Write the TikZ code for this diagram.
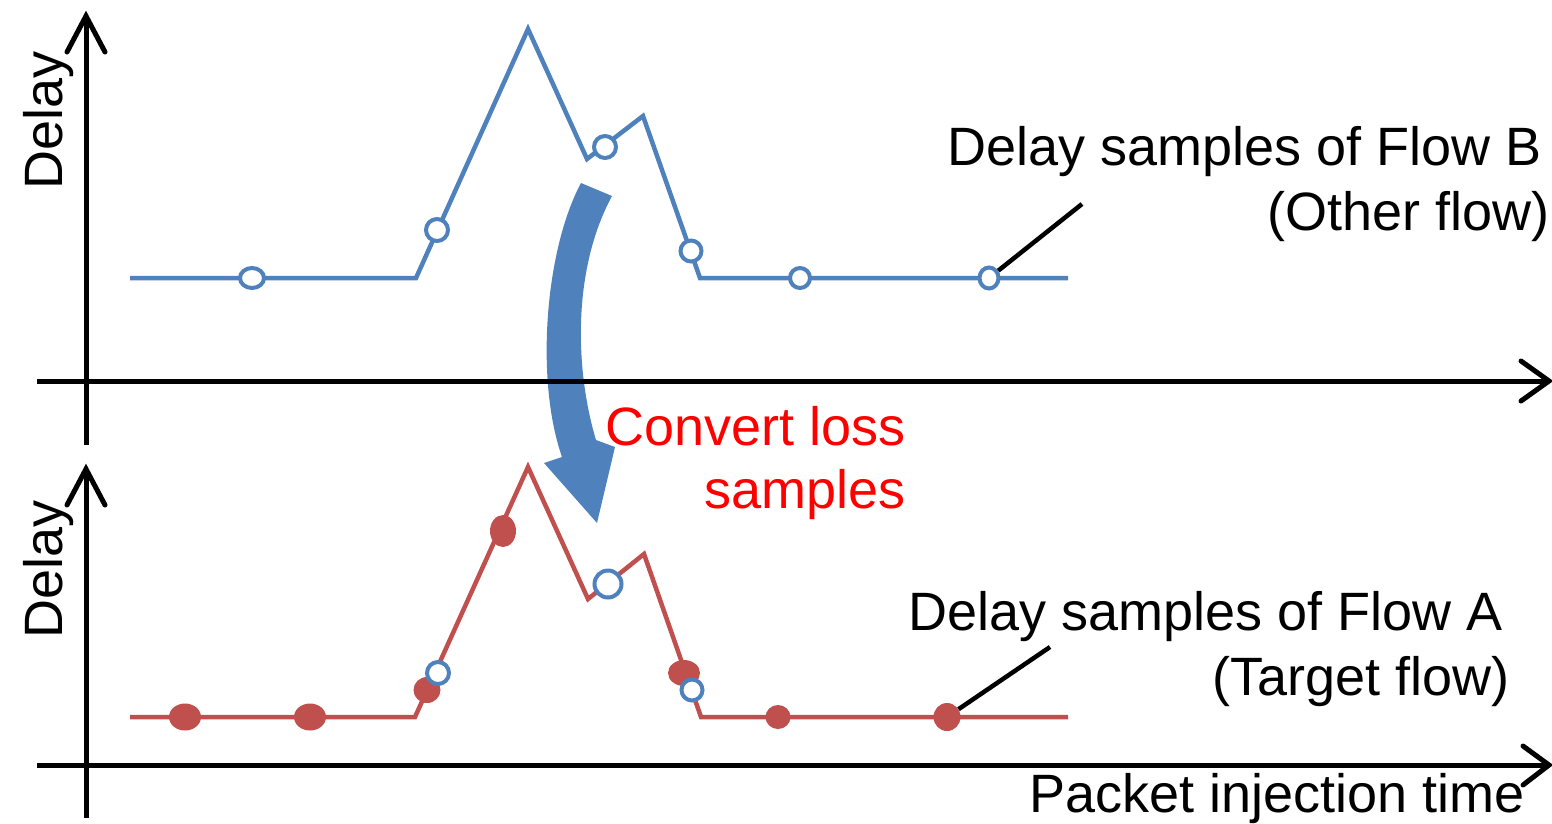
\documentclass[tikz,border=0pt]{standalone}
\usepackage{fontspec}
\setmainfont{Liberation Sans}
\usetikzlibrary{calc,shapes.geometric}
\definecolor{oblue}{HTML}{4F81BD}
\definecolor{ored}{HTML}{C0504D}
\begin{document}
\begin{tikzpicture}[x=1pt,y=-1pt,
  axis/.style={line width=5pt},
  chev/.style={line width=5pt, line cap=round, line join=miter},
  curveB/.style={oblue, line width=4.5pt, line join=miter},
  curveA/.style={ored, line width=4.5pt, line join=miter},
  opent/.style 2 args={ellipse, draw=oblue, fill=white, line width=4pt, inner sep=0pt, minimum width=#1, minimum height=#2},
  fillr/.style 2 args={ellipse, fill=ored, inner sep=0pt, minimum width=#1, minimum height=#2},
  leader/.style={line width=4.5pt},
  lab/.style={font=\fontsize{54}{63}\selectfont, inner sep=0pt},
  bigarrow/.style={fill=oblue}]
\useasboundingbox (0,0) rectangle (1552,823);

% big curved arrow
\fill[bigarrow] (581,183) .. controls (545,250) and (535,380) .. (562,457) -- (544,463) -- (597,523) -- (615,447) -- (596,440) .. controls (575,370) and (572,270) .. (612,196) -- cycle;

% top axes
\coordinate (yT0) at (86,445);
\coordinate (yT1) at (86,16);
\coordinate (xT0) at (37,381);
\coordinate (xT1) at (1549,381);
\draw[axis] (yT0) -- (yT1);
\draw[axis] (xT0) -- (xT1);
\draw[chev] ($(yT1)+(-19,36)$) -- (yT1) -- ($(yT1)+(19,36)$);
\draw[chev] ($(xT1)+(-28,-20)$) -- (xT1) -- ($(xT1)+(-28,20)$);

% bottom axes
\coordinate (yA0) at (86,818);
\coordinate (yA1) at (86,469);
\coordinate (xA0) at (37,765);
\coordinate (xA1) at (1549,765);
\draw[axis] (yA0) -- (yA1);
\draw[axis] (xA0) -- (xA1);
\draw[chev] ($(yA1)+(-19,36)$) -- (yA1) -- ($(yA1)+(19,36)$);
\draw[chev] ($(xA1)+(-26,-19)$) -- (xA1) -- ($(xA1)+(-26,20)$);

% top curve (Flow B)
\draw[curveB] (130,278) -- (416,278) -- (528,29) -- (587,159) -- (643,116) -- (700,278) -- (1068,278);
\node[opent={24pt}{20pt}] (b1) at (252,278) {};
\node[opent={22pt}{22pt}] (b2) at (437,230) {};
\node[opent={22pt}{22pt}] (b3) at (605,147) {};
\node[opent={21pt}{21pt}] (b4) at (691,251) {};
\node[opent={20pt}{20pt}] (b5) at (800,278) {};
\node[opent={19pt}{21pt}] (b6) at (989,278) {};

% bottom curve (Flow A)
\draw[curveA] (130,717) -- (415,717) -- (528,467) -- (588,599) -- (644,554) -- (701,717) -- (1068,717);
\node[fillr={32pt}{27pt}] (a1) at (185,717) {};
\node[fillr={32pt}{27pt}] (a2) at (310,717) {};
\node[fillr={27pt}{26pt}] (a3) at (427,690) {};
\node[fillr={26pt}{32pt}] (a4) at (503,531) {};
\node[fillr={32pt}{26pt}] (a5) at (684,673) {};
\node[fillr={25pt}{24pt}] (a6) at (778,717) {};
\node[fillr={27pt}{28pt}] (a7) at (947,717) {};
\node[opent={22pt}{22pt}] (c1) at (438,673) {};
\node[opent={27pt}{27pt}] (c2) at (608,584) {};
\node[opent={21pt}{21pt}] (c3) at (692,690) {};

% leaders
\coordinate (lB) at (1082,204);
\coordinate (lA) at (1050,647);
\draw[leader] (b6) -- (lB);
\draw[leader] (a7) -- (lA);

% labels
\node[lab, rotate=90, anchor=base west] (dT) at (62,190) {Delay};
\node[lab, rotate=90, anchor=base west] (dA) at (62,639) {Delay};
\node[lab, anchor=base east] (tB1) at (1542,165) {Delay samples of Flow B};
\node[lab, anchor=base east] (tB2) at (1550,230) {(Other flow)};
\node[lab, anchor=base east] (tA1) at (1503,630) {Delay samples of Flow A};
\node[lab, anchor=base east] (tA2) at (1510,695) {(Target flow)};
\node[lab, anchor=base east, text=red] (cv1) at (906,445) {Convert loss};
\node[lab, anchor=base east, text=red] (cv2) at (906,508) {samples};
\node[lab, anchor=base east] (px) at (1525,812) {Packet injection time};
\end{tikzpicture}
\end{document}
